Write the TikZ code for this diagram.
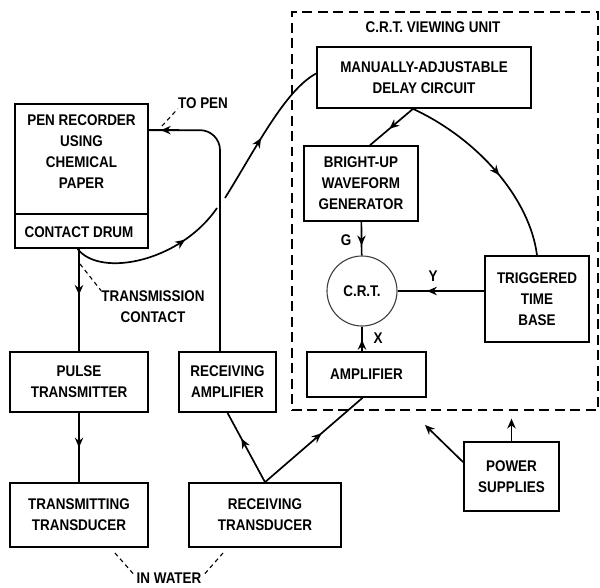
\documentclass[tikz,border=0pt]{standalone}
\usepackage{fontspec}
\setmainfont[FakeStretch=0.87]{Liberation Sans}
\usetikzlibrary{positioning,calc,arrows.meta,decorations.markings}

\newcommand{\boxfont}{\fontsize{11}{15}\selectfont\bfseries}

\tikzset{
  blk/.style 2 args={draw, line width=1.2pt, minimum width=#1*0.025cm, minimum height=#2*0.025cm, align=center, inner sep=0pt},
  lbl/.style={align=center, inner sep=0pt},
  flow/.style={line width=1.2pt, postaction={decorate},
    decoration={markings, mark=at position #1 with {\arrow{Stealth[length=7pt,width=6pt]}}}},
  flow/.default=0.5,
  tipline/.style={line width=1.2pt, -{Stealth[length=7pt,width=6pt]}},
  leader/.style={dash pattern=on 3pt off 2.5pt, line width=0.8pt}
}

\begin{document}
\begin{tikzpicture}[x=0.025cm, y=-0.025cm, every node/.style={font=\boxfont}]
\useasboundingbox (0,0) rectangle (600,587);

% Blocks
\node[blk={133}{144}] (pen) at (81.5,176) {};
\node[blk={138}{60}] (pulse) at (79,382) {PULSE\\TRANSMITTER};
\node[blk={138}{64}] (trans) at (79,515) {TRANSMITTING\\TRANSDUCER};
\node[blk={97}{60}] (ramp) at (227.5,382) {RECEIVING\\AMPLIFIER};
\node[blk={152}{64}] (recv) at (265,515) {RECEIVING\\TRANSDUCER};

% C.R.T. viewing unit
\node[draw, dash pattern=on 7pt off 4pt, line width=0.9pt, minimum width=306*0.025cm, minimum height=398*0.025cm, inner sep=0pt] (unit) at (445,211) {};
\node[blk={214}{61}] (delay) at (424,77.5) {MANUALLY-ADJUSTABLE\\DELAY CIRCUIT};
\node[blk={114}{75}] (bright) at (361,183.5) {BRIGHT-UP\\WAVEFORM\\GENERATOR};
\node[circle, draw=black!75, line width=0.8pt, minimum size=70*0.025cm, inner sep=0pt] (crt) at (362,291) {C.R.T.};
\node[blk={104}{86}] (ttb) at (537,299) {TRIGGERED\\TIME\\BASE};
\node[blk={119}{45}] (amp) at (366.5,374.5) {AMPLIFIER};
\node[blk={95}{69}] (power) at (511.5,476.5) {POWER\\SUPPLIES};

% Pen recorder inside
\node[lbl] (pentxt) at (81.5,151.5) {PEN RECORDER\\USING\\CHEMICAL\\PAPER};
\draw[line width=1.2pt] ($(pen.north west)+(0,111)$) -- ($(pen.north east)+(0,111)$);
\node[lbl] (drum) at (79,232) {CONTACT DRUM};

% Labels
\node[lbl] (title) at (433,27) {C.R.T. VIEWING UNIT};
\node[lbl] (topen) at (203,103) {TO PEN};
\node[lbl] (tcontact) at (153,307) {TRANSMISSION\\CONTACT};
\node[lbl] (water) at (169,578) {IN WATER};
\node[lbl] (glbl) at (346,240) {G};
\node[lbl] (ylbl) at (433,276) {Y};
\node[lbl] (xlbl) at (378,338) {X};

% Points
\coordinate (drumout) at ($(pen.south)+(-4,0)$);
\coordinate (hopA) at (217,208);
\coordinate (hopB) at (225,198);
\coordinate (dsplit) at ($(delay.south)+(-11,0)$);
\coordinate (penin) at ($(pen.north east)+(0,27)$);
\coordinate (rampout) at ($(ramp.north)+(-7.5,0)$);
\coordinate (delayin) at ($(delay.west)+(0,-4)$);
\coordinate (pwrtip) at (425,425);
\coordinate (penlead) at (162,126);
\coordinate (drumlead) at (80,264);
\coordinate (wlead) at (115,553);
\coordinate (rlead) at (223,553);

% Connectors
\draw[flow=0.45] (pulse.north |- pen.south) -- (pulse.north);
\draw[flow] (pulse) -- (trans);
\draw[flow=0.63] (recv.north) -- (ramp.south);
\draw[flow=0.58] (recv.north) -- ($(amp.south)+(-4,0)$);
\draw[line width=1.2pt, rounded corners=0.5cm] (rampout) -- (rampout |- penin) -- (penin);
\draw[flow=0.6] ($(penin)+(30,0)$) -- (penin);
\draw[flow=0.72] (drumout) .. controls (100,278) and (180,262) .. (hopA);
\draw[flow=0.45] (hopB) .. controls (255,150) and (285,90) .. (delayin);
\draw[flow=0.55] (dsplit) -- ($(bright.north)+(9,0)$);
\draw[flow=0.55] (dsplit) .. controls (480,140) and (530,200) .. (ttb.north);
\draw[flow=0.7] (bright) -- (crt);
\draw[flow=0.66] (ttb.west |- crt.east) -- (crt.east);
\draw[flow=0.46] (crt.south |- amp.north) -- (crt.south);
\draw[tipline] (power.north) -- ($(unit.south -| power.north)+(0,8)$);
\draw[tipline] ($(power.north west)+(0,21)$) -- (pwrtip);

% Leaders
\draw[leader] (penlead) -- (topen.south west);
\draw[leader] (drumlead) -- (tcontact.north west);
\draw[leader] (wlead) -- ($(water.west)+(-2,-3)$);
\draw[leader] (rlead) -- ($(water.east)+(2,-3)$);

\end{tikzpicture}
\end{document}
